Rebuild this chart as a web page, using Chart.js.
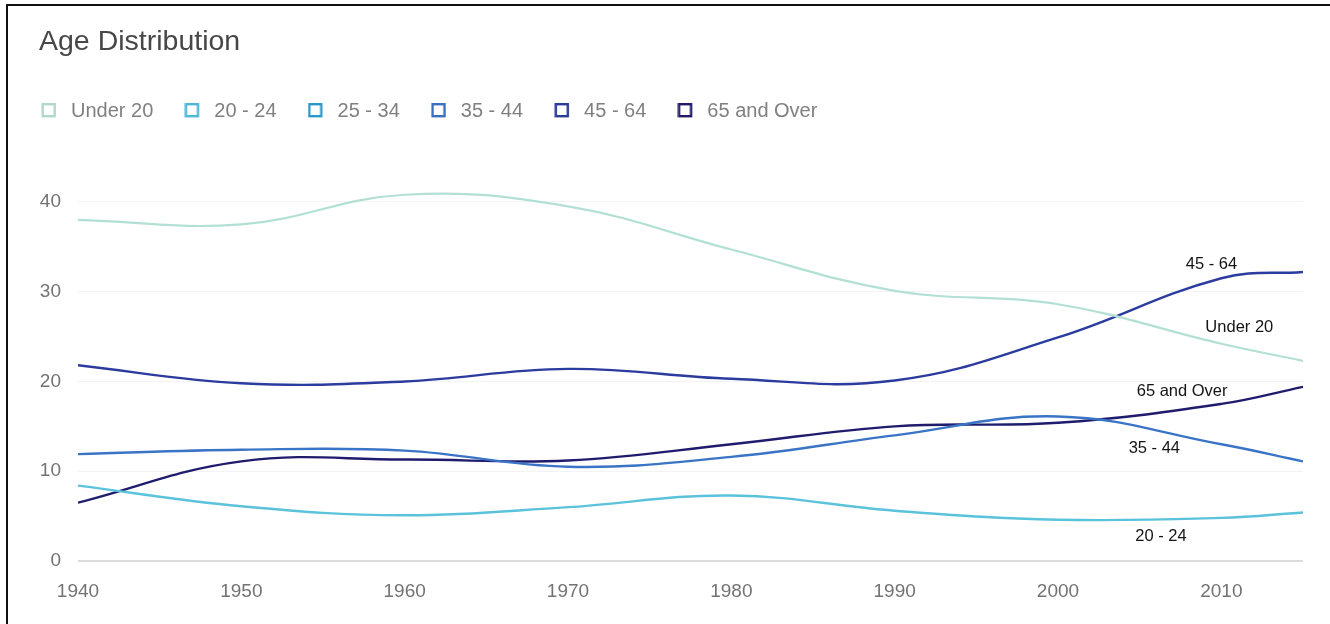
<!DOCTYPE html>
<html>
<head>
<meta charset="utf-8">
<script src="https://cdn.jsdelivr.net/npm/chart.js@4/dist/chart.umd.min.js"></script>
<style>
  html, body { margin: 0; padding: 0; background: #fff; }
  #wrap { position: relative; width: 1330px; height: 624px; overflow: hidden; }
  #c { position: absolute; left: 0; top: 0; }
  #frame { position: absolute; left: 6px; top: 4px; width: 1400px; height: 700px;
           border-top: 2px solid #111; border-left: 2px solid #111; pointer-events: none; }
  #title { position: absolute; left: 39px; top: 26px; line-height: 28px;
           font-family: "Liberation Sans", Arial, sans-serif; font-size: 28.5px; color: #474747; white-space: nowrap; }
</style>
</head>
<body>
<div id="wrap">
  <canvas id="c" width="1330" height="624"></canvas>
  <div id="title">Age Distribution</div>
  <div id="frame"></div>
</div>
<script>
const years    = [1940, 1950, 1960, 1970, 1980, 1990, 2000, 2010, 2015];
const under20  = [38.0, 37.5, 40.8, 39.5, 34.7, 30.1, 28.6, 24.2, 22.3];
const age20_24 = [8.4, 6.1, 5.1, 6.0, 7.3, 5.6, 4.6, 4.8, 5.4];
const age25_34 = [];
const age35_44 = [11.9, 12.4, 12.3, 10.5, 11.6, 14.0, 16.1, 13.0, 11.1];
const age45_64 = [21.8, 19.8, 20.0, 21.4, 20.3, 20.1, 24.9, 31.5, 32.2];
const age65up  = [6.5, 11.1, 11.3, 11.2, 13.0, 15.0, 15.4, 17.5, 19.4];
const seriesNames = ["Under 20", "20 - 24", "25 - 34", "35 - 44", "45 - 64", "65 and Over"];
const seriesValues = [under20, age20_24, age25_34, age35_44, age45_64, age65up];
const yTicks = [0, 10, 20, 30, 40];
const xTicks = [1940, 1950, 1960, 1970, 1980, 1990, 2000, 2010];

// in-chart series labels, placed in data coordinates
const lineLabels = [
  { text: "45 - 64",     year: 2009.4, value: 33.0 },
  { text: "Under 20",    year: 2011.1, value: 26.0 },
  { text: "65 and Over", year: 2007.6, value: 18.9 },
  { text: "35 - 44",     year: 2005.9, value: 12.5 },
  { text: "20 - 24",     year: 2006.3, value: 2.7 }
];

const lineColors = ["#b3e0d4", "#5bc2dc", "#2c9ccb", "#3a74c6", "#2b3b9e", "#1f1c6e"];
const boxColors  = ["#b0d8cf", "#4fb8d8", "#2b98c8", "#3b6fbf", "#2a3c98", "#1f1a6a"];

function makeBox(color) {
  const cv = document.createElement('canvas');
  cv.width = 20; cv.height = 22;
  const g = cv.getContext('2d');
  g.strokeStyle = color; g.lineWidth = 2.4;
  g.strokeRect(1.7, 4.2, 12, 12);
  return cv;
}
const boxes = boxColors.map(makeBox);

const datasets = seriesNames.map((name, i) => ({
  label: name,
  data: seriesValues[i].map((v, j) => ({ x: years[j], y: v })),
  borderColor: lineColors[i],
  backgroundColor: lineColors[i],
  borderWidth: i === 0 ? 2.2 : 2.4,
  pointRadius: 0,
  pointHoverRadius: 0,
  tension: 0.4,
  fill: false
}));

const labelPlugin = {
  id: 'lineLabels',
  afterDatasetsDraw(chart) {
    const { ctx, scales } = chart;
    ctx.save();
    ctx.font = '16.5px "Liberation Sans", Arial, sans-serif';
    ctx.fillStyle = '#141414';
    ctx.textAlign = 'center';
    ctx.textBaseline = 'middle';
    lineLabels.forEach(l => {
      ctx.fillText(l.text, scales.x.getPixelForValue(l.year), scales.y.getPixelForValue(l.value));
    });
    ctx.restore();
  }
};

Chart.defaults.font.family = '"Liberation Sans", Arial, sans-serif';

new Chart(document.getElementById('c'), {
  type: 'line',
  data: { datasets },
  plugins: [labelPlugin],
  options: {
    responsive: false,
    animation: false,
    events: [],
    layout: { padding: { left: 10, right: 27, top: 70, bottom: 21 } },
    plugins: {
      title: { display: false },
      tooltip: { enabled: false },
      legend: {
        display: true,
        position: 'top',
        align: 'start',
        labels: {
          usePointStyle: true,
          boxWidth: 20,
          boxHeight: 20,
          padding: 31,
          color: '#808080',
          font: { size: 20 },
          generateLabels: (chart) => chart.data.datasets.map((ds, i) => ({
            text: ds.label,
            pointStyle: boxes[i],
            datasetIndex: i,
            hidden: false,
            fillStyle: 'transparent',
            strokeStyle: 'transparent',
            lineWidth: 0,
            fontColor: '#808080'
          }))
        }
      }
    },
    scales: {
      x: {
        type: 'linear',
        min: 1940,
        max: 2015,
        afterBuildTicks: (s) => { s.ticks = xTicks.map(v => ({ value: v })); },
        afterFit: (s) => { s.height = 42; },
        grid: { display: false, drawTicks: false },
        border: { display: false },
        ticks: {
          padding: 19,
          color: '#737373',
          font: { size: 19 },
          maxRotation: 0,
          autoSkip: false,
          callback: (v) => String(v)
        }
      },
      y: {
        min: 0,
        max: 47.9,
        afterBuildTicks: (s) => { s.ticks = yTicks.map(v => ({ value: v })); },
        afterFit: (s) => { s.width = 68; },
        grid: {
          drawTicks: false,
          color: (c) => (c.tick && c.tick.value === 0) ? '#dcdcdc' : '#f3f3f3',
          lineWidth: (c) => (c.tick && c.tick.value === 0) ? 2 : 1
        },
        border: { display: false },
        ticks: {
          padding: 17,
          color: '#737373',
          font: { size: 19 }
        }
      }
    }
  }
});
</script>
</body>
</html>
